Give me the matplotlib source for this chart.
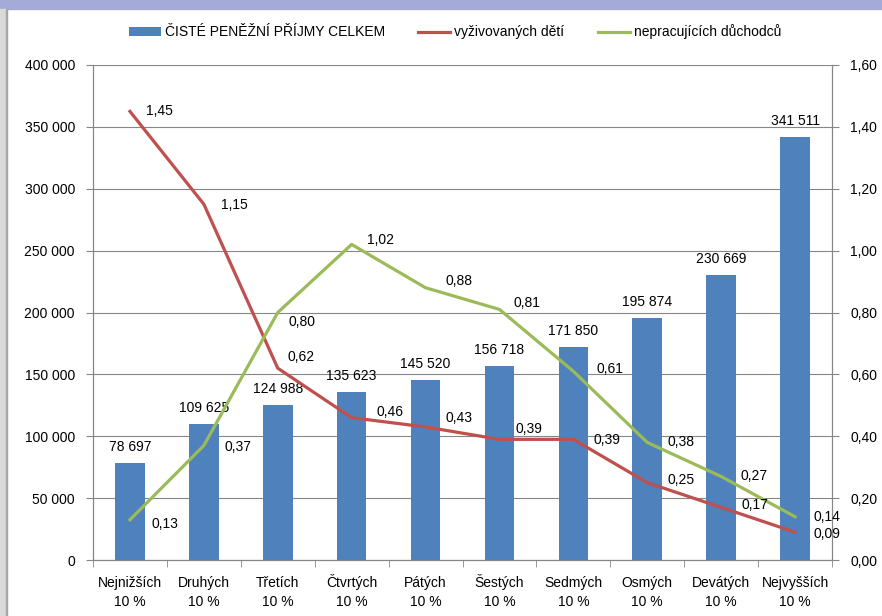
import matplotlib
matplotlib.use("Agg")
import matplotlib.pyplot as plt
import matplotlib.transforms as mtransforms
from matplotlib.patches import Rectangle
from matplotlib.ticker import FuncFormatter, FixedLocator

plt.rcParams['font.family'] = ['Liberation Sans', 'DejaVu Sans']

categories = ["Nejnižších\n10 %", "Druhých\n10 %", "Třetích\n10 %", "Čtvrtých\n10 %", "Pátých\n10 %",
              "Šestých\n10 %", "Sedmých\n10 %", "Osmých\n10 %", "Devátých\n10 %", "Nejvyšších\n10 %"]
income = [78697, 109625, 124988, 135623, 145520, 156718, 171850, 195874, 230669, 341511]
children = [1.45, 1.15, 0.62, 0.46, 0.43, 0.39, 0.39, 0.25, 0.17, 0.09]
pensioners = [0.13, 0.37, 0.80, 1.02, 0.88, 0.81, 0.61, 0.38, 0.27, 0.14]

series_names = ["ČISTÉ PENĚŽNÍ PŘÍJMY CELKEM", "vyživovaných dětí", "nepracujících důchodců"]

# label offsets in pixels (dx, dy) – styling only
red_offsets = [(16, 0), (17, -1), (10, 11), (25, 6), (20, 9), (16, 10), (20, -1), (20, 3), (20, 2), (18, -2)]
green_offsets = [(22, -4), (21, -1), (11, -10), (15, 4), (20, 7), (14, 6), (23, 2), (20, 0), (19, 0), (18, 0)]

BLUE = "#4F81BD"
RED = "#C0504D"
GREEN = "#9BBB59"
GRID = "#868686"
FS = 10

W, H = 882, 616
fig = plt.figure(figsize=(W / 100, H / 100), dpi=100)
fig.patch.set_facecolor("white")

# outer frame decoration
fig.patches.append(Rectangle((0, 1 - 9 / H), 1, 9 / H, transform=fig.transFigure, color="#A4ABD7", zorder=0))
fig.patches.append(Rectangle((0, 0), 6 / W, 1 - 9 / H, transform=fig.transFigure, color="#DADADA", zorder=0))
fig.patches.append(Rectangle((6 / W, 0), 1.5 / W, 1 - 9 / H, transform=fig.transFigure, color="#A6A6A6", zorder=0))

ax = fig.add_axes([93 / W, (H - 560) / H, (832 - 93) / W, (560 - 65) / H])
ax2 = ax.twinx()
ax.set_zorder(1)
ax2.set_zorder(2)
ax.patch.set_visible(False)

x = list(range(len(categories)))
bars = ax.bar(x, income, width=0.4, color=BLUE, zorder=3, label=series_names[0])
ax.set_xlim(-0.5, len(categories) - 0.5)
ax.set_ylim(0, 400000)
ax.yaxis.set_major_locator(FixedLocator(range(0, 400001, 50000)))
ax.yaxis.set_major_formatter(FuncFormatter(lambda v, p: f"{int(v):,}".replace(",", " ")))
ax.grid(axis="y", color=GRID, linewidth=0.8, zorder=0)
ax.set_axisbelow(True)

# x labels drawn manually with baseline alignment
ax.set_xticks(x)
ax.set_xticklabels([])
ax.set_xticks([i - 0.5 for i in range(len(categories) + 1)], minor=True)
ax.tick_params(axis="x", which="major", length=0)
ax.tick_params(axis="x", which="minor", length=5, color=GRID, direction="out")
trans = mtransforms.blended_transform_factory(ax.transData, ax.transAxes)
for xi, lab in zip(x, categories):
    for j, line in enumerate(lab.split("\n")):
        off = mtransforms.offset_copy(trans, fig=fig, x=0, y=-(27 + 19 * j) * 72 / 100, units="points")
        ax.text(xi, 0, line, transform=off, ha="center", va="baseline", fontsize=FS)

ax.tick_params(axis="y", length=5, color=GRID, labelsize=FS, pad=8)

for a in (ax, ax2):
    a.spines["top"].set_visible(False)
    for s in ["left", "right", "bottom"]:
        a.spines[s].set_color(GRID)
        a.spines[s].set_linewidth(0.8)

l1, = ax2.plot(x, children, color=RED, linewidth=2.3, label=series_names[1], zorder=4)
l2, = ax2.plot(x, pensioners, color=GREEN, linewidth=2.3, label=series_names[2], zorder=4)
ax2.set_ylim(0, 1.6)
ax2.yaxis.set_major_locator(FixedLocator([i * 0.2 for i in range(9)]))
ax2.yaxis.set_major_formatter(FuncFormatter(lambda v, p: f"{v:.2f}".replace(".", ",")))
ax2.tick_params(axis="y", length=5, color=GRID, labelsize=FS, pad=8)

# bar labels
for xi, v in zip(x, income):
    ax.annotate(f"{v:,}".replace(",", " "), (xi, v), xytext=(0, 16), textcoords="offset pixels",
                ha="center", va="center", fontsize=FS, zorder=5)

for xi, v, (dx, dy) in zip(x, children, red_offsets):
    ax2.annotate(f"{v:.2f}".replace(".", ","), (xi, v), xytext=(dx, dy), textcoords="offset pixels",
                 ha="left", va="center", fontsize=FS, zorder=5)
for xi, v, (dx, dy) in zip(x, pensioners, green_offsets):
    ax2.annotate(f"{v:.2f}".replace(".", ","), (xi, v), xytext=(dx, dy), textcoords="offset pixels",
                 ha="left", va="center", fontsize=FS, zorder=5)

fig.legend([bars, l1, l2], series_names, loc="center", bbox_to_anchor=(455 / W, 1 - 32 / H),
           ncol=3, frameon=False, fontsize=10, handlelength=2.3, handleheight=0.6,
           handletextpad=0.3, columnspacing=2.4)

fig.savefig("out.png", dpi=100)
